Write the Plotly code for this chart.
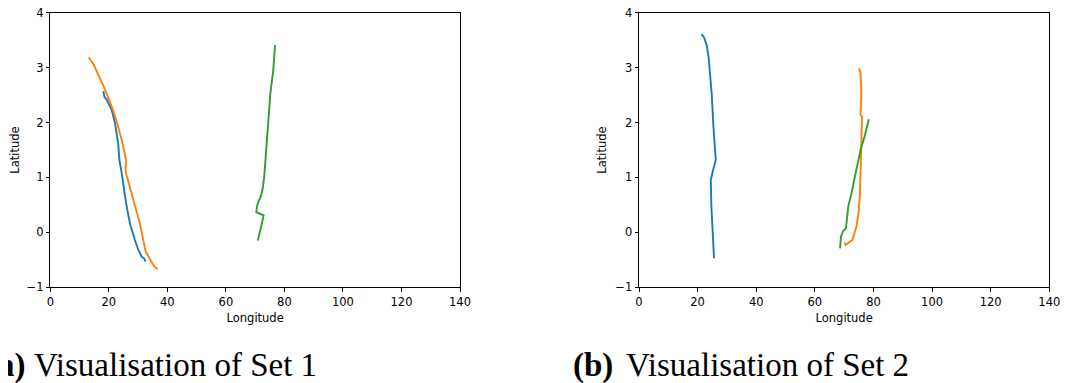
import plotly.graph_objects as go

# page body has a default 8px margin; compensate so the figure lands on the reference pixels
OFF = 8
W, H = 1079 - OFF, 383 - OFF

# Set 1 tracks (longitude, latitude)
s1_blue_lon = [18.1, 18.5, 19.2, 21.0, 22.1, 23.2, 23.6, 24.4, 25.9, 27.2, 28.9, 30.1, 31.2, 32.0, 32.6]
s1_blue_lat = [2.57, 2.47, 2.42, 2.23, 1.99, 1.62, 1.32, 1.08, 0.53, 0.165, -0.14, -0.32, -0.44, -0.47, -0.53]
s1_orange_lon = [13.1, 14.7, 17.0, 18.3, 21.0, 22.7, 24.4, 25.9, 25.7, 27.2, 28.9, 30.6, 32.6, 34.0, 35.5, 36.7]
s1_orange_lat = [3.19, 3.07, 2.80, 2.65, 2.29, 2.02, 1.68, 1.32, 1.11, 0.83, 0.53, 0.165, -0.35, -0.47, -0.62, -0.67]
s1_green_lon = [76.8, 76.2, 75.2, 74.5, 73.9, 73.1, 72.5, 71.9, 71.1, 70.6, 70.4, 71.4, 72.9, 72.3, 71.6, 70.9]
s1_green_lat = [3.41, 2.96, 2.53, 1.99, 1.50, 1.01, 0.77, 0.65, 0.56, 0.47, 0.37, 0.35, 0.31, 0.165, 0.01, -0.15]

# Set 2 tracks
s2_blue_lon = [21.3, 22.2, 23.1, 23.8, 24.2, 24.8, 25.4, 25.8, 26.2, 25.3, 24.5, 24.7, 25.1, 25.4, 25.6]
s2_blue_lat = [3.61, 3.55, 3.41, 3.17, 2.90, 2.53, 1.92, 1.56, 1.32, 1.14, 0.95, 0.47, -0.02, -0.26, -0.47]
s2_orange_lon = [75.1, 75.6, 75.9, 75.6, 76.1, 75.9, 75.5, 75.4, 74.9, 74.3, 73.5, 72.8, 72.0, 71.1, 70.5, 70.2]
s2_orange_lat = [2.99, 2.90, 2.53, 2.14, 2.11, 1.68, 1.20, 0.71, 0.35, 0.13, -0.02, -0.14, -0.17, -0.20, -0.23, -0.18]
s2_green_lon = [78.4, 77.1, 75.6, 74.3, 73.4, 72.5, 71.4, 70.6, 69.7, 68.9, 68.6]
s2_green_lat = [2.06, 1.77, 1.50, 1.20, 0.95, 0.71, 0.47, 0.07, 0.03, -0.08, -0.29]

x_ticks = [0, 20, 40, 60, 80, 100, 120, 140]
y_ticks = [-1, 0, 1, 2, 3, 4]
captions = [("(a)", "Visualisation of Set 1"), ("(b)", "Visualisation of Set 2")]

BLUE, ORANGE, GREEN = "#1f77b4", "#ff7f0e", "#2ca02c"

fig = go.Figure()
panels = [
    ("x", "y", [(s1_blue_lon, s1_blue_lat, BLUE), (s1_orange_lon, s1_orange_lat, ORANGE), (s1_green_lon, s1_green_lat, GREEN)]),
    ("x2", "y2", [(s2_blue_lon, s2_blue_lat, BLUE), (s2_orange_lon, s2_orange_lat, ORANGE), (s2_green_lon, s2_green_lat, GREEN)]),
]
for xa, ya, tracks in panels:
    for lon, lat, c in tracks:
        fig.add_trace(go.Scatter(x=lon, y=lat, mode="lines", xaxis=xa, yaxis=ya,
                                 line=dict(color=c, width=1.9), showlegend=False, hoverinfo="skip"))

font_ax = dict(family="DejaVu Sans", size=11.5, color="black")
axis_common = dict(showline=True, linecolor="black", linewidth=0.9, mirror=True, ticks="outside",
                   ticklen=3.5, tickwidth=0.9, tickcolor="black", showgrid=False, zeroline=False,
                   tickfont=font_ax, title_font=font_ax, automargin=False, ticklabeloverflow="allow")

def px_x(p):
    return (p - OFF) / W

def px_y(p):
    return 1 - (p - OFF) / H

dom_y = [px_y(287.3), px_y(12.7)]
fig.update_layout(
    width=W, height=H, margin=dict(l=0, r=0, t=0, b=0),
    paper_bgcolor="white", plot_bgcolor="white",
    xaxis=dict(domain=[px_x(50.3), px_x(460)], range=[0, 140], tickvals=x_ticks, anchor="y",
               title=dict(text="Longitude", standoff=6), **axis_common),
    yaxis=dict(domain=dom_y, range=[-1, 4], tickvals=y_ticks, anchor="x",
               title=dict(text="Latitude", standoff=6), **axis_common),
    xaxis2=dict(domain=[px_x(639), px_x(1049.3)], range=[0, 140], tickvals=x_ticks, anchor="y2",
                title=dict(text="Longitude", standoff=6), **axis_common),
    yaxis2=dict(domain=dom_y, range=[-1, 4], tickvals=y_ticks, anchor="x2",
                title=dict(text="Latitude", standoff=6), **axis_common),
)

cap_font = dict(family="Liberation Serif", size=33, color="black")
cap_positions = [(-15.5, 32.3), (571, 624)]
for (lab, txt), (xl, xt) in zip(captions, cap_positions):
    fig.add_annotation(x=px_x(xl), y=px_y(365), xref="paper", yref="paper", xanchor="left", yanchor="middle",
                       text="<b>" + lab + "</b>", showarrow=False, font=cap_font)
    fig.add_annotation(x=px_x(xt), y=px_y(365), xref="paper", yref="paper", xanchor="left", yanchor="middle",
                       text=txt, showarrow=False, font=cap_font)

fig.write_html("out.html")
